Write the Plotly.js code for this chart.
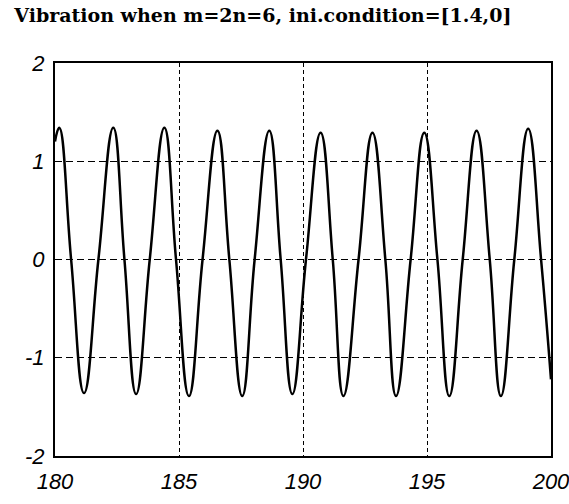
<!DOCTYPE html>
<html>
<head>
<meta charset="utf-8">
<script src="https://cdn.plot.ly/plotly-3.0.1.min.js"></script>
<style>html,body{margin:0;padding:0;background:#fff;}#chart{width:569px;height:504px;}</style>
</head>
<body>
<div id="chart"></div>
<script>
// Values (peaks, zero crossings, troughs)
var time = [180.00, 180.17, 180.65, 181.17, 181.75, 182.35, 182.80, 183.27, 183.82, 184.41,
            184.88, 185.40, 185.95, 186.55, 187.03, 187.55, 188.05, 188.64, 189.10, 189.57,
            190.12, 190.71, 191.20, 191.63, 192.24, 192.80, 193.32, 193.75, 194.34, 194.89,
            195.42, 195.90, 196.44, 197.00, 197.53, 197.98, 198.52, 199.08, 199.60, 200.00];
var displacement = [1.20, 1.34, 0, -1.36, 0, 1.34, 0, -1.37, 0, 1.34,
                    0, -1.39, 0, 1.31, 0, -1.39, 0, 1.31, 0, -1.37,
                    0, 1.29, 0, -1.39, 0, 1.29, 0, -1.39, 0, 1.29,
                    0, -1.39, 0, 1.31, 0, -1.39, 0, 1.33, 0, -1.22];
var xTickVals = [180, 185, 190, 195, 200];
var xTickText = ["180", "185", "190", "195", "200"];
var yTickVals = [-2, -1, 0, 1, 2];
var yTickText = ["-2", "-1", "0", "1", "2"];
var titleText = "Vibration when m=2n=6, ini.condition=[1.4,0]";

var tickFont = {family: "Liberation Sans, Arial, sans-serif", size: 22, color: "#000", style: "italic"};

var trace = {
  x: time, y: displacement, type: "scatter", mode: "lines",
  line: {color: "#000", width: 2.5, shape: "spline", smoothing: 1.3},
  hoverinfo: "skip"
};

var layout = {
  width: 569, height: 504,
  margin: {l: 55, r: 18, t: 63, b: 48},
  paper_bgcolor: "#fff", plot_bgcolor: "#fff",
  showlegend: false,
  title: {
    text: titleText,
    font: {family: "DejaVu Serif, serif", size: 19, color: "#000", weight: "bold"},
    x: 0.462, xref: "container", xanchor: "center",
    y: 0.97, yref: "container", yanchor: "middle"
  },
  xaxis: {
    range: [180, 200], tickvals: xTickVals, ticktext: xTickText,
    tickfont: tickFont, ticks: "", ticklen: 0, ticklabeloverflow: "allow",
    ticklabelstandoff: 5,
    showgrid: true, gridcolor: "#000", gridwidth: 1, griddash: "4px,3px",
    zeroline: false, showline: true, linecolor: "#000", linewidth: 2, mirror: true
  },
  yaxis: {
    range: [-2, 2], tickvals: yTickVals, ticktext: yTickText,
    tickfont: tickFont, ticks: "", ticklen: 0, ticklabelstandoff: 4,
    showgrid: true, gridcolor: "#000", gridwidth: 1, griddash: "7px,4px",
    zeroline: false, showline: true, linecolor: "#000", linewidth: 2, mirror: true
  }
};

Plotly.newPlot("chart", [trace], layout, {staticPlot: true, displayModeBar: false});
</script>
</body>
</html>
